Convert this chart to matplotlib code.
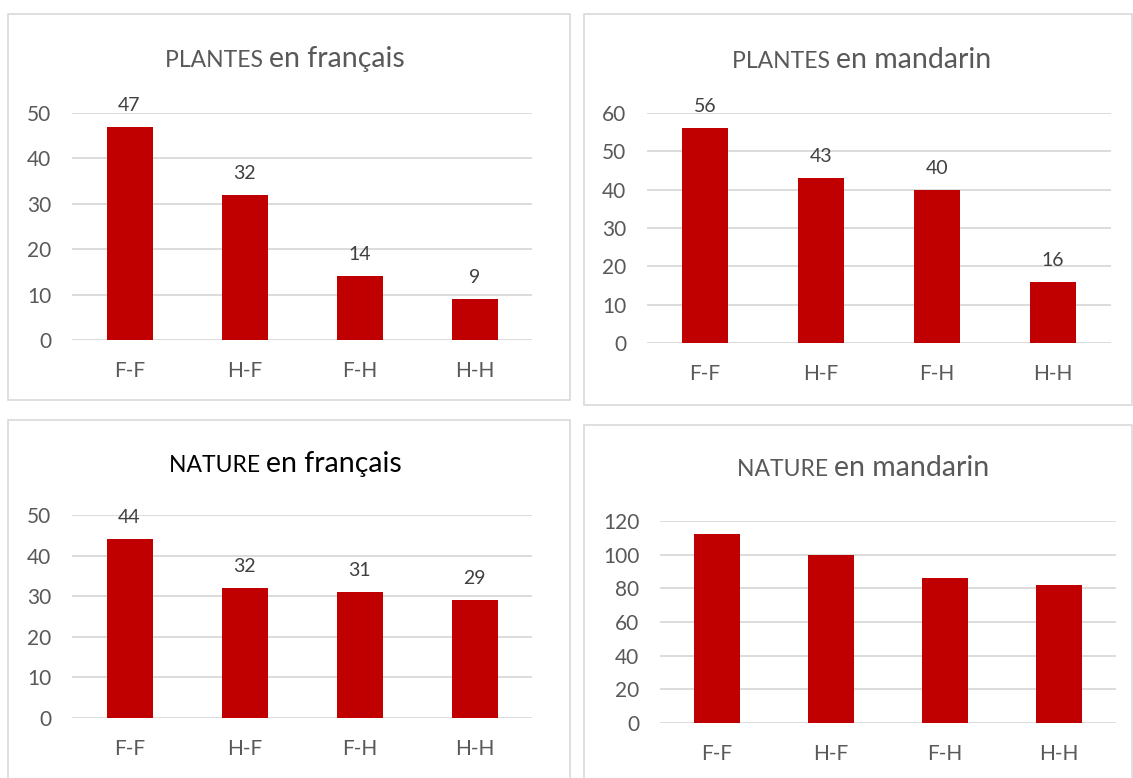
import matplotlib
matplotlib.use("Agg")
import matplotlib.pyplot as plt
from matplotlib.patches import Rectangle

plt.rcParams['font.family'] = ['Lato', 'DejaVu Sans']

categories = ["F-F", "H-F", "F-H", "H-H"]
plantes_fr = [47, 32, 14, 9]
plantes_zh = [56, 43, 40, 16]
nature_fr = [44, 32, 31, 29]
nature_zh = [112, 100, 86, 82]

W, H = 1133, 778
fig = plt.figure(figsize=(W / 100, H / 100), dpi=100)

BAR = "#c00000"
GRID = "#d9d9d9"
TXT = "#595959"

def px_axes(x0, x1, ytop, ybot):
    return [x0 / W, 1 - ybot / H, (x1 - x0) / W, (ybot - ytop) / H]

def box(x0, x1, y0, y1):
    fig.patches.append(Rectangle((x0 / W, 1 - y1 / H), (x1 - x0) / W, (y1 - y0) / H,
                                 transform=fig.transFigure, fill=False,
                                 edgecolor=GRID, linewidth=1.2))

panels = [
    dict(vals=plantes_fr, ymax=50, step=10, ax=(72, 532, 113, 340), box=(8, 570, 14, 400),
         t1="PLANTES", t2="en français", tc=TXT, ty=67, cx=285, labels=True),
    dict(vals=plantes_zh, ymax=60, step=10, ax=(647, 1111, 113, 343), box=(584, 1132, 14, 405),
         t1="PLANTES", t2="en mandarin", tc=TXT, ty=68, cx=862, labels=True),
    dict(vals=nature_fr, ymax=50, step=10, ax=(72, 532, 515, 718), box=(8, 570, 420, 790),
         t1="NATURE", t2="en français", tc="#000000", ty=472, cx=285, labels=True),
    dict(vals=nature_zh, ymax=120, step=20, ax=(660, 1116, 521, 723), box=(584, 1132, 425, 790),
         t1="NATURE", t2="en mandarin", tc=TXT, ty=476, cx=863, labels=False),
]

fig.canvas.draw()
renderer = fig.canvas.get_renderer()

for p in panels:
    box(*p["box"])
    ax = fig.add_axes(px_axes(*p["ax"]))
    x = range(len(categories))
    ax.bar(x, p["vals"], width=0.4, color=BAR, zorder=3)
    ax.set_xlim(-0.5, len(categories) - 0.5)
    ax.set_ylim(0, p["ymax"])
    ax.set_yticks(range(0, p["ymax"] + 1, p["step"]))
    ax.set_xticks(list(x))
    ax.set_xticklabels(categories)
    ax.yaxis.grid(True, color=GRID, linewidth=1.3, zorder=0)
    ax.set_axisbelow(True)
    for s in ax.spines.values():
        s.set_visible(False)
    ax.tick_params(axis='both', length=0, colors=TXT, labelsize=15)
    ax.tick_params(axis='y', pad=15)
    ax.tick_params(axis='x', pad=15)
    ax.patch.set_alpha(0)
    if p["labels"]:
        for xi, v in zip(x, p["vals"]):
            ax.annotate(str(v), (xi, v), xytext=(0, 11.5), textcoords="offset points",
                        ha="center", va="baseline", fontsize=14, color="#404040")
    # title with two font sizes
    yb = 1 - p["ty"] / H
    a = fig.text(0, yb, p["t1"] + " ", fontsize=16.5, color=p["tc"], va="baseline", ha="left")
    b = fig.text(0, yb, p["t2"], fontsize=20.5, color=p["tc"], va="baseline", ha="left")
    w1 = a.get_window_extent(renderer).width
    w2 = b.get_window_extent(renderer).width
    x0 = p["cx"] - (w1 + w2) / 2
    a.set_x(x0 / W)
    b.set_x((x0 + w1) / W)

fig.savefig("out.png", dpi=100, facecolor="white")
